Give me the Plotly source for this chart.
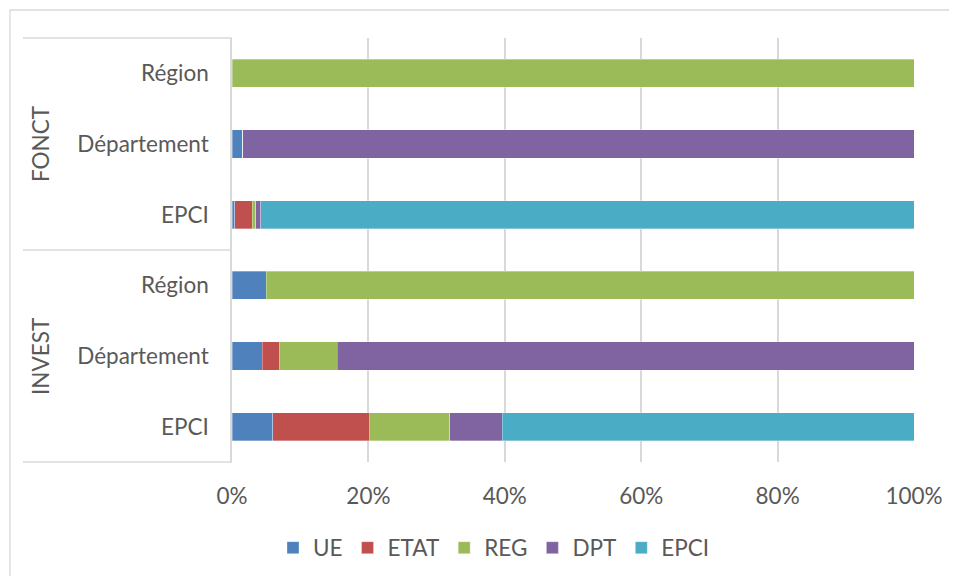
import plotly.graph_objects as go

groups = ["FONCT", "FONCT", "FONCT", "INVEST", "INVEST", "INVEST"]
rows = ["Région", "Département", "EPCI", "Région", "Département", "EPCI"]
series_names = ["UE", "ETAT", "REG", "DPT", "EPCI"]
UE = [0, 1.6, 0.4, 5.0, 4.4, 6.0]
ETAT = [0, 0, 2.6, 0, 2.5, 14.2]
REG = [100, 0, 0.5, 95.0, 8.5, 11.7]
DPT = [0, 98.4, 0.7, 0, 84.6, 7.7]
EPCI = [0, 0, 95.8, 0, 0, 60.4]
x_ticks = [0, 20, 40, 60, 80, 100]

colors = ["#4F81BD", "#C0504D", "#9BBB59", "#8064A2", "#4BACC6"]
series = [UE, ETAT, REG, DPT, EPCI]
keys = [f"{g} | {r}" for g, r in zip(groups, rows)]

FONT = "Lato"
TXT = "#595959"
GRID = "#D9D9D9"
FS = 22.5

fig = go.Figure()
for name, vals, col in zip(series_names, series, colors):
    fig.add_trace(go.Bar(
        y=keys, x=vals, name=name, orientation="h",
        marker=dict(color=col, line=dict(color="rgba(255,255,255,0.45)", width=0.7)),
        hovertemplate="%{x}%<extra>" + name + "</extra>",
    ))

# page body has an 8px margin: figure is drawn from (8, 8) in the window
OFF = 8
W, H = 957 - OFF, 576 - OFF
# plot area in window coordinates
PX0, PX1, PY0, PY1 = 232, 914, 38, 462
L, R, T, B = PX0 - OFF, W - (PX1 - OFF), PY0 - OFF, H - (PY1 - OFF)
pw, ph = PX1 - PX0, PY1 - PY0

def px(x):
    return (x - PX0) / pw

def py(y):
    return (PY1 - y) / ph

shapes = []
for yy in [PY0, (PY0 + PY1) / 2, PY1]:
    shapes.append(dict(type="line", xref="paper", yref="paper",
                       x0=px(23), x1=0, y0=py(yy), y1=py(yy),
                       line=dict(color=GRID, width=1.3)))
shapes.append(dict(type="rect", xref="paper", yref="paper",
                   x0=px(10), x1=1.5, y0=py(10), y1=-1.0,
                   line=dict(color=GRID, width=1.3), fillcolor="rgba(0,0,0,0)", layer="below"))

annotations = []
for g in ["FONCT", "INVEST"]:
    idx = [i for i, gg in enumerate(groups) if gg == g]
    mid = keys[idx[len(idx) // 2]]
    annotations.append(dict(text=g, xref="paper", yref="y", x=px(40), y=mid,
                            textangle=-90, showarrow=False,
                            font=dict(family=FONT, size=FS, color=TXT),
                            xanchor="center", yanchor="middle"))

fig.update_layout(
    width=W, height=H,
    margin=dict(l=L, r=R, t=T, b=B, autoexpand=False),
    barmode="stack", bargap=0.6,
    paper_bgcolor="white", plot_bgcolor="white",
    font=dict(family=FONT, color=TXT, size=FS),
    shapes=shapes, annotations=annotations,
    legend=dict(orientation="h", x=px(494), xanchor="center", y=py(548), yanchor="middle",
                font=dict(family=FONT, size=FS, color=TXT), traceorder="normal",
                itemclick=False),
    xaxis=dict(range=[0, 100], tickvals=x_ticks, ticktext=[f"{v}%" for v in x_ticks],
               showgrid=True, gridcolor=GRID, gridwidth=1.5, zeroline=False,
               showline=False, ticks="", ticklabelstandoff=18,
               tickfont=dict(family=FONT, size=FS, color=TXT)),
    yaxis=dict(type="category", categoryorder="array", categoryarray=keys,
               autorange="reversed", tickvals=keys, ticktext=rows,
               showgrid=False, showline=True, linecolor=GRID, linewidth=1.5,
               ticks="", ticklabelstandoff=17,
               tickfont=dict(family=FONT, size=FS, color=TXT)),
)

fig.write_html("out.html")
